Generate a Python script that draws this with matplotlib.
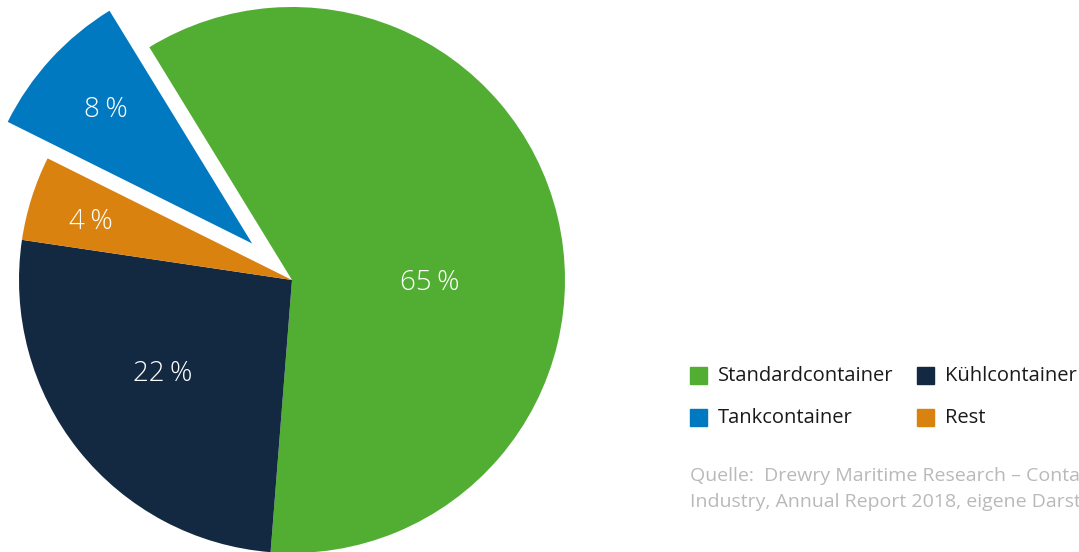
import numpy as np
import matplotlib.pyplot as plt

# Anteile (Winkel aus dem Bild), Beschriftungen wie im Original
kategorien = ['Standardcontainer', 'Kühlcontainer', 'Rest', 'Tankcontainer']
anteile = [60.0, 26.1, 5.0, 8.9]
beschriftung = ['65 %', '22 %', '4 %', '8 %']
farben = ['#52ad33', '#132941', '#d9820f', '#0079c1']
explode = [0, 0, 0, 0.198]
# Position der Beschriftung: (Winkel in Grad, Abstand in Radien)
label_pos = [(0, 0.505), (215, 0.58), (163, 0.77), (137, 0.93)]

W, H = 1079, 552
cx, cy, r = 292, 280, 273

fig = plt.figure(figsize=(W / 100, H / 100), dpi=100)
ax = fig.add_axes([0, 0, 1, 1])

wedges, _ = ax.pie(anteile, colors=farben, startangle=121.5, counterclock=False,
                   explode=explode, radius=1, center=(0, 0),
                   wedgeprops=dict(linewidth=0))
ax.set_xlim(-cx / r, (W - cx) / r)
ax.set_ylim(-(H - cy) / r, cy / r)
ax.set_aspect('equal')
ax.axis('off')

for txt, (ang, d) in zip(beschriftung, label_pos):
    a = np.deg2rad(ang)
    ax.text(d * np.cos(a), d * np.sin(a) - 0.012, txt.replace(' ', '\u2009'),
            color='white', fontsize=20, ha='center', va='center',
            family=['Open Sans', 'DejaVu Sans'], fontweight='light')

# Legende
leg_x = [690, 917]
leg_y = [375, 417]
order = [0, 1, 3, 2]
for i, k in enumerate(order):
    x = leg_x[i % 2]
    y = leg_y[i // 2]
    fig.add_artist(plt.Rectangle((x / W, 1 - (y + 8.5) / H), 17 / W, 17 / H,
                                 transform=fig.transFigure, color=farben[k]))
    fig.text((x + 28) / W, 1 - (y + 1) / H, kategorien[k], fontsize=14.5, color='#1a1a1a',
             va='center', ha='left', family='Open Sans')

fig.text(690 / W, 1 - 476 / H, 'Quelle:  Drewry Maritime Research – Container Leasing',
         fontsize=14, color='#b9b9b9', va='center', ha='left', family='Open Sans')
fig.text(690 / W, 1 - 502 / H, 'Industry, Annual Report 2018, eigene Darstellung',
         fontsize=14, color='#b9b9b9', va='center', ha='left', family='Open Sans')

plt.savefig('out.png', dpi=100)
